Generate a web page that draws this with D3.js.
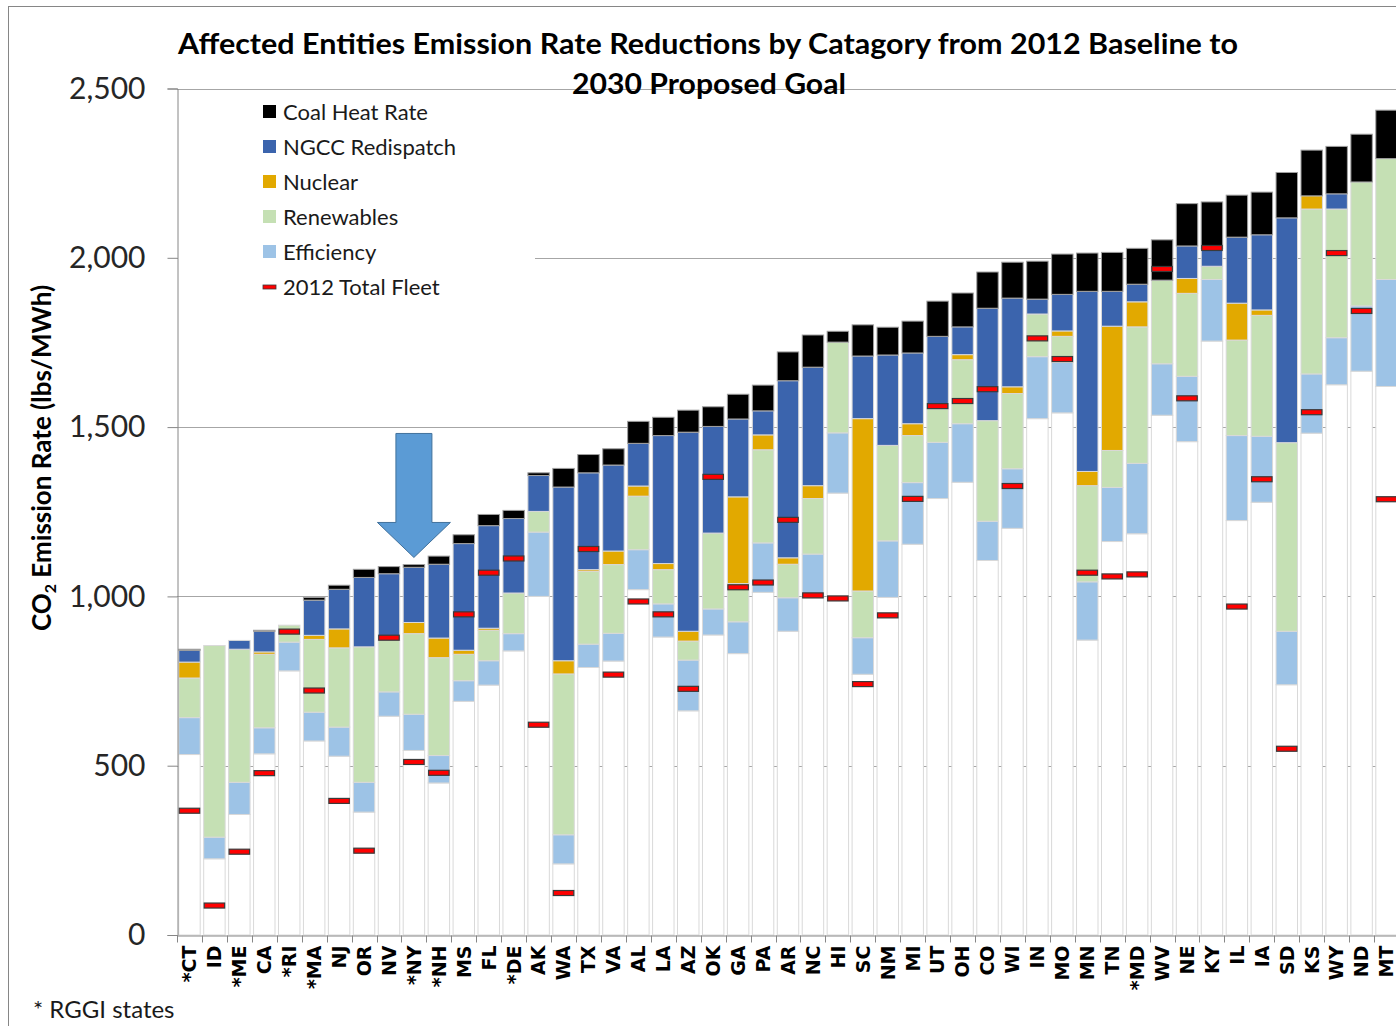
<!DOCTYPE html>
<html>
<head>
<meta charset="utf-8">
<script src="https://cdn.jsdelivr.net/npm/d3@7"></script>
<style>
  body { margin: 0; background: #fff; }
  svg { display: block; }
</style>
</head>
<body>
<div id="chart"></div>
<script>
// states in chart order (* = RGGI)
var states = ["*CT","ID","*ME","CA","*RI","*MA","NJ","OR","NV","*NY","*NH","MS","FL","*DE","AK","WA","TX","VA","AL","LA","AZ","OK","GA","PA","AR","NC","HI","SC","NM","MI","UT","OH","CO","WI","IN","MO","MN","TN","*MD","WV","NE","KY","IL","IA","SD","KS","WY","ND","MT"];

// 2030 proposed goal (white base of each bar)
var goal = [533,225,356,535,780,573,528,363,646,545,449,690,738,839,1000,210,790,809,1020,880,662,886,831,1012,897,996,1305,770,997,1154,1289,1337,1106,1201,1525,1542,871,1162,1185,1535,1457,1754,1224,1278,739,1482,1625,1665,1620];
// reductions by category
var efficiency = [109,64,95,77,85,85,86,88,72,107,81,61,72,51,190,86,69,82,118,98,150,77,94,146,99,129,178,108,167,182,166,173,116,176,183,149,172,160,208,152,193,182,251,195,158,175,139,193,316];
var renewables = [117,566,393,217,50,215,234,400,152,238,289,78,90,120,61,475,215,203,158,101,56,224,113,275,99,164,268,138,282,139,99,189,297,222,126,77,284,109,403,247,245,39,282,357,557,487,380,366,357];
var nuclear = [47,0,0,7,0,12,56,0,0,33,58,12,6,0,0,39,5,40,30,18,29,0,256,44,19,38,0,509,0,35,0,15,0,20,0,16,42,367,74,0,44,0,109,16,0,39,0,0,0];
var ngcc = [35,0,26,61,0,104,117,205,197,163,218,315,303,220,106,513,286,254,126,378,588,315,230,71,523,350,0,185,267,209,214,82,332,262,44,108,532,103,52,0,96,52,195,222,664,0,45,0,0];
var coal = [3,0,0,3,0,8,12,24,21,8,24,26,33,24,8,55,54,48,65,54,65,58,73,76,85,95,32,92,82,94,104,100,107,106,112,119,113,115,106,119,125,138,124,126,134,135,140,141,143];
// 2012 total fleet rate
var fleet2012 = [367,87,246,478,896,722,396,249,878,511,479,947,1070,1112,621,124,1140,769,985,947,727,1353,1027,1041,1226,1003,994,741,944,1288,1562,1577,1612,1326,1762,1701,1070,1059,1065,1967,1585,2029,970,1346,550,1544,2014,1843,1287];

var yTicks = [0, 500, 1000, 1500, 2000, 2500];

var keys = ["goal","eff","ren","nuc","ngcc","coal"];
var colours = {goal: "#ffffff", eff: "#9dc3e6", ren: "#c5e0b4", nuc: "#e2a900", ngcc: "#3b64ad", coal: "#000000"};
var legendItems = [
  {key: "coal", label: "Coal Heat Rate"},
  {key: "ngcc", label: "NGCC Redispatch"},
  {key: "nuc", label: "Nuclear"},
  {key: "ren", label: "Renewables"},
  {key: "eff", label: "Efficiency"}
];

var table = states.map(function(s, i) {
  return {state: s, goal: goal[i], eff: efficiency[i], ren: renewables[i], nuc: nuclear[i],
          ngcc: ngcc[i], coal: coal[i], fleet: fleet2012[i]};
});

var W = 1396, H = 1026;
var plot = {left: 177, right: 1399, top: 88.5, bottom: 935};

var svg = d3.select("#chart").append("svg")
    .attr("width", W)
    .attr("height", H);

// outer chart border
svg.append("rect")
    .attr("x", 8.5).attr("y", 6.5)
    .attr("width", W + 20).attr("height", H + 20)
    .attr("fill", "#fff")
    .attr("stroke", "#868686");

var x = d3.scaleBand().domain(states).range([plot.left, plot.right])
    .paddingInner(0.14).paddingOuter(0.07);
var y = d3.scaleLinear().domain([0, 2500]).range([plot.bottom, plot.top]);

// gridlines
svg.append("g").selectAll("line")
    .data(yTicks.filter(function(d) { return d > 0; }))
  .enter().append("line")
    .attr("x1", plot.left).attr("x2", plot.right)
    .attr("y1", function(d) { return Math.round(y(d)) + 0.5; })
    .attr("y2", function(d) { return Math.round(y(d)) + 0.5; })
    .attr("stroke", "#a6a6a6");

// stacked bars
var series = d3.stack().keys(keys)(table);

svg.append("g").selectAll("g")
    .data(series)
  .enter().append("g")
    .attr("fill", function(d) { return colours[d.key]; })
    .attr("stroke", function(d) { return d.key == "coal" ? "#a0a0a0" : "#d9d9d9"; })
    .attr("stroke-width", 1)
  .selectAll("rect")
    .data(function(d) { return d.filter(function(v) { return v[1] - v[0] > 0; }); })
  .enter().append("rect")
    .attr("x", function(d) { return x(d.data.state); })
    .attr("y", function(d) { return y(d[1]); })
    .attr("width", x.bandwidth())
    .attr("height", function(d) { return y(d[0]) - y(d[1]); });

// 2012 total fleet markers
svg.append("g").selectAll("rect")
    .data(table)
  .enter().append("rect")
    .attr("x", function(d) { return x(d.state) + 0.5; })
    .attr("y", function(d) { return y(d.fleet) - 2.5; })
    .attr("width", x.bandwidth() - 1)
    .attr("height", 5)
    .attr("fill", "#ff0000")
    .attr("stroke", "#3a3a3a")
    .attr("stroke-width", 1.2);

// legend (white box hides gridline)
var legend = svg.append("g");
legend.append("rect")
    .attr("x", plot.left + 1).attr("y", 96)
    .attr("width", 357).attr("height", 205)
    .attr("fill", "#fff");

legendItems.forEach(function(item, i) {
  var cy = 112 + i * 35;
  legend.append("rect")
      .attr("x", 263).attr("y", cy - 7)
      .attr("width", 13).attr("height", 13)
      .attr("fill", colours[item.key]);
  legend.append("text")
      .attr("x", 283).attr("y", cy + 8)
      .attr("font-family", "Lato, sans-serif")
      .attr("font-size", 22)
      .attr("fill", "#1a1a1a")
      .text(item.label);
});
legend.append("rect")
    .attr("x", 263).attr("y", 285)
    .attr("width", 13).attr("height", 4)
    .attr("fill", "#ff0000")
    .attr("stroke", "#3a3a3a")
    .attr("stroke-width", 0.8);
legend.append("text")
    .attr("x", 283).attr("y", 295)
    .attr("font-family", "Lato, sans-serif")
    .attr("font-size", 22)
    .attr("fill", "#1a1a1a")
    .text("2012 Total Fleet");

// y axis
var yAxis = svg.append("g")
    .attr("transform", "translate(" + (plot.left + 0.5) + ",0)")
    .call(d3.axisLeft(y).tickValues(yTicks).tickSize(10).tickPadding(22).tickFormat(d3.format(",")));
yAxis.select(".domain").attr("stroke", "#868686");
yAxis.selectAll(".tick line").attr("stroke", "#868686");
yAxis.selectAll(".tick text")
    .attr("font-family", "Lato, sans-serif")
    .attr("font-size", 30)
    .attr("fill", "#262626");

// x axis
var xAxis = svg.append("g")
    .attr("transform", "translate(0," + (plot.bottom + 0.5) + ")")
    .call(d3.axisBottom(x).tickSize(0).tickPadding(0));
xAxis.select(".domain").attr("stroke", "#868686");
xAxis.selectAll(".tick text")
    .attr("font-family", "DejaVu Sans, sans-serif")
    .attr("font-weight", "bold")
    .attr("font-size", 19)
    .attr("fill", "#000")
    .attr("text-anchor", "end")
    .attr("dy", "0.36em")
    .attr("transform", "translate(0,10) rotate(-90)");
// tick marks between categories
var step = x.step();
xAxis.selectAll(".sep")
    .data(states)
  .enter().append("line")
    .attr("x1", function(d) { return Math.round(x(d) - (step - x.bandwidth()) / 2) + 0.5; })
    .attr("x2", function(d) { return Math.round(x(d) - (step - x.bandwidth()) / 2) + 0.5; })
    .attr("y1", 0).attr("y2", 7)
    .attr("stroke", "#868686");

// arrow pointing at NY
var ax = x("*NY") + x.bandwidth() / 2, tip = y(1115);
svg.append("path")
    .attr("d", "M" + ax + "," + tip +
      " L" + (ax - 36.5) + "," + (tip - 35) +
      " L" + (ax - 18) + "," + (tip - 35) +
      " L" + (ax - 18) + "," + (tip - 124) +
      " L" + (ax + 18) + "," + (tip - 124) +
      " L" + (ax + 18) + "," + (tip - 35) +
      " L" + (ax + 36.5) + "," + (tip - 35) + " Z")
    .attr("fill", "#5b9bd5")
    .attr("stroke", "#41719c")
    .attr("stroke-width", 1);

// title
var title = svg.append("text")
    .attr("font-family", "Lato, sans-serif")
    .attr("font-weight", "bold")
    .attr("font-size", 29)
    .attr("fill", "#000")
    .attr("text-anchor", "middle");
title.append("tspan").attr("x", 708).attr("y", 54)
    .attr("textLength", 1060).attr("lengthAdjust", "spacingAndGlyphs")
    .text("Affected Entities Emission Rate Reductions by Catagory from 2012 Baseline to");
title.append("tspan").attr("x", 709).attr("y", 94)
    .attr("textLength", 274).attr("lengthAdjust", "spacingAndGlyphs")
    .text("2030 Proposed Goal");

// y axis title
var yt = svg.append("text")
    .attr("transform", "translate(51,458) rotate(-90)")
    .attr("font-family", "Lato, sans-serif")
    .attr("font-weight", "bold")
    .attr("font-size", 26)
    .attr("fill", "#000")
    .attr("text-anchor", "middle");
yt.append("tspan").text("CO");
yt.append("tspan").attr("font-size", 16).attr("dy", 5).text("2");
yt.append("tspan").attr("dy", -5).text(" Emission Rate (lbs/MWh)");

// footnote
svg.append("text")
    .attr("x", 33).attr("y", 1018)
    .attr("font-family", "Lato, sans-serif")
    .attr("font-size", 24)
    .attr("fill", "#1a1a1a")
    .text("* RGGI states");
</script>
</body>
</html>
